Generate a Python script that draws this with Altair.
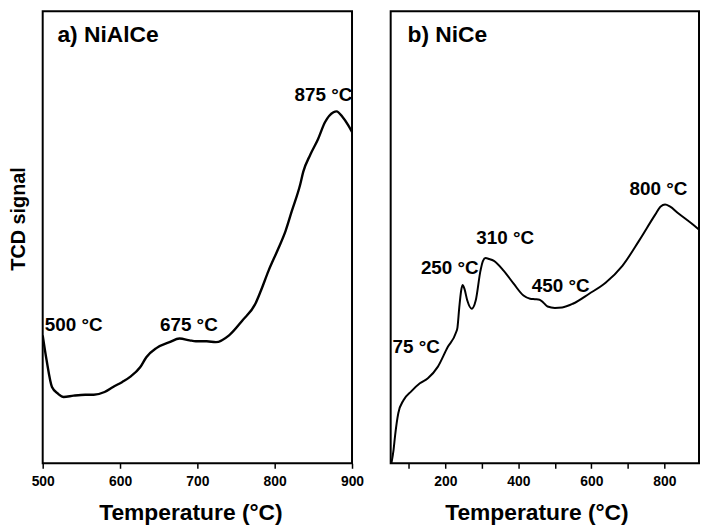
import altair as alt
import pandas as pd

FONT = "Liberation Sans"

# ---- Panel a) NiAlCe : TCD signal vs temperature ----
a_temp = [500, 505, 512, 520, 527, 540, 555, 566, 580, 591, 603, 613, 626, 634, 647, 664, 677, 690, 698, 712,
          724, 741, 758, 775, 782, 792, 805, 814, 822, 833, 837, 846, 856, 865, 876, 880, 888, 895, 900]
a_signal = [28.0, 22.6, 16.7, 15.2, 14.5, 14.8, 15.0, 15.0, 15.6, 16.7, 17.8, 18.9, 21.0, 23.2, 25.2, 26.5, 27.3, 26.9, 26.7, 26.7,
            26.5, 28.0, 31.2, 34.9, 37.7, 42.1, 47.1, 50.8, 55.1, 61.0, 63.8, 67.5, 70.9, 74.6, 76.8, 77.0, 75.7, 74.0, 72.5]

# ---- Panel b) NiCe ----
b_temp = [52, 58, 62, 71, 85, 107, 130, 152, 179, 206, 229, 233, 238, 243, 247, 252, 260, 272, 283, 296,
          303, 310, 320, 333, 360, 387, 414, 432, 445, 458, 468, 480, 500, 520, 549, 594, 639, 685, 730, 775,
          790, 802, 815, 838, 874, 894]
b_signal = [0, 3, 6, 11, 13.8, 15.8, 17.5, 18.6, 21.1, 25.4, 28.6, 29.7, 34.1, 37.7, 39.0, 38.2, 35.6, 33.8, 35.6, 42.1,
            44.3, 44.9, 44.7, 44.3, 42.1, 39.3, 36.7, 36.0, 35.9, 35.8, 35.2, 34.3, 34.0, 34.1, 34.9, 37.1, 39.5, 43.2, 48.6, 54.4,
            56.2, 56.6, 56.2, 54.7, 52.5, 51.2]

# ---- Annotations ----
a_ann_text = ["500 °C", "675 °C", "875 °C"]
a_ann_temp = [540, 689, 863]
a_ann_signal = [28.9, 28.9, 79.3]

b_ann_text = ["75 °C", "250 °C", "310 °C", "450 °C", "800 °C"]
b_ann_temp = [120, 212, 364, 516, 784]
b_ann_signal = [24.1, 41.5, 47.9, 37.4, 58.7]

panel_titles = ["a) NiAlCe", "b) NiCe"]
panel_title_temp = [519, 96]
panel_title_signal = [92.1, 92.1]

a_ticks = [500, 550, 600, 650, 700, 750, 800, 850, 900]
b_ticks = [100, 200, 300, 400, 500, 600, 700, 800]


def panel(temp, signal, ann_text, ann_temp, ann_signal, title, title_t, title_s,
          xdom, ticks, step, y_axis, title_x, lw):
    line_df = pd.DataFrame({"T": temp, "S": signal})
    ann_df = pd.DataFrame({"T": ann_temp, "S": ann_signal, "txt": ann_text})
    ttl_df = pd.DataFrame({"T": [title_t], "S": [title_s], "txt": [title]})

    xenc = alt.X("T:Q", scale=alt.Scale(domain=xdom, nice=False, zero=False),
                 axis=alt.Axis(values=ticks,
                               labelExpr=f"datum.value % {step} == 0 ? datum.label : ''",
                               labelFlush=False,
                               title="Temperature (°C)", titleX=title_x))
    yenc = alt.Y("S:Q", scale=alt.Scale(domain=[0, 98.9], nice=False, zero=False), axis=y_axis)

    line = alt.Chart(line_df).mark_line(color="black", strokeWidth=lw, clip=True,
                                        interpolate="monotone").encode(x=xenc, y=yenc)
    ann = alt.Chart(ann_df).mark_text(font=FONT, fontSize=19, fontWeight="bold", color="black",
                                      align="center", baseline="alphabetic").encode(
        x=alt.X("T:Q"), y=alt.Y("S:Q"), text="txt:N")
    ttl = alt.Chart(ttl_df).mark_text(font=FONT, fontSize=23, fontWeight="bold", color="black",
                                      align="left", baseline="alphabetic").encode(
        x=alt.X("T:Q"), y=alt.Y("S:Q"), text="txt:N")
    return alt.layer(line, ann, ttl)


left_y = alt.Axis(title="TCD signal", labels=False, ticks=False, domain=False, grid=False,
                  titleFontSize=20, titlePadding=14, titleY=209)

left = panel(a_temp, a_signal, a_ann_text, a_ann_temp, a_ann_signal,
             panel_titles[0], panel_title_temp[0], panel_title_signal[0],
             [500, 900], a_ticks, 100, left_y, 149, 2.4).properties(width=312, height=456)

right = panel(b_temp, b_signal, b_ann_text, b_ann_temp, b_ann_signal,
              panel_titles[1], panel_title_temp[1], panel_title_signal[1],
              [50, 895], b_ticks, 200, None, 147, 2).properties(width=311, height=456)

chart = alt.hconcat(left, right, spacing=39, bounds="flush").properties(padding=0).configure_view(
    stroke="black", strokeWidth=2
).configure_axis(
    grid=False, domain=False, tickColor="black", tickSize=5, tickWidth=1.5,
    labelFont=FONT, labelFontSize=14, labelFontWeight="bold", labelColor="black", labelPadding=6,
    titleFont=FONT, titleFontSize=23, titleFontWeight="bold", titleColor="black", titlePadding=14
)

chart.save("out.html", embed_options={"renderer": "svg", "actions": False})
